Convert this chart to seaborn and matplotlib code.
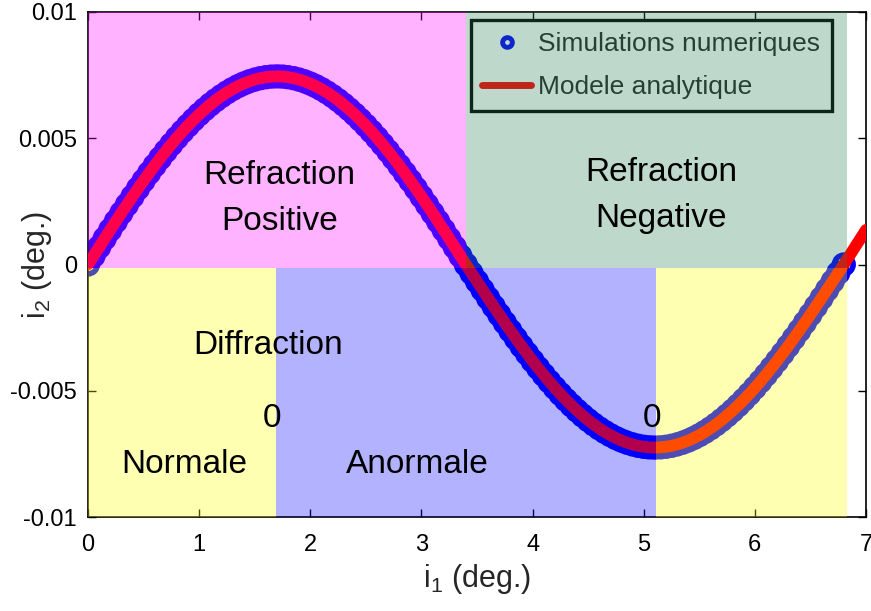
import numpy as np
import pandas as pd
import matplotlib
matplotlib.use("Agg")
import matplotlib.pyplot as plt
from matplotlib.lines import Line2D
import seaborn as sns

# Simulated transmitted angle i2 versus incidence angle i1 (degrees), sampled every 0.05 deg
sim_i1 = np.round(np.linspace(0.0, 6.8, 137), 2)
sim_i2 = [
    0.0, 0.000344, 0.000687, 0.001029, 0.001369, 0.001706, 0.002039, 0.002367,
    0.002691, 0.003009, 0.003321, 0.003625, 0.003922, 0.004210, 0.004490, 0.004759,
    0.005019, 0.005268, 0.005505, 0.005731, 0.005945, 0.006146, 0.006334, 0.006508,
    0.006669, 0.006815, 0.006947, 0.007064, 0.007165, 0.007252, 0.007323, 0.007379,
    0.007418, 0.007442, 0.007450,
    0.007442, 0.007418, 0.007379, 0.007323, 0.007252, 0.007165, 0.007064, 0.006947,
    0.006815, 0.006669, 0.006508, 0.006334, 0.006146, 0.005945, 0.005731, 0.005505,
    0.005268, 0.005019, 0.004759, 0.004490, 0.004210, 0.003922, 0.003625, 0.003321,
    0.003009, 0.002691, 0.002367, 0.002039, 0.001706, 0.001369, 0.001029, 0.000687,
    0.000344, 0.0,
    -0.000335, -0.000669, -0.001002, -0.001332, -0.001660, -0.001984, -0.002304,
    -0.002619, -0.002928, -0.003232, -0.003528, -0.003817, -0.004097, -0.004369,
    -0.004632, -0.004884, -0.005127, -0.005358, -0.005578, -0.005786, -0.005981,
    -0.006164, -0.006334, -0.006490, -0.006632, -0.006760, -0.006874, -0.006973,
    -0.007057, -0.007126, -0.007180, -0.007219, -0.007242, -0.007250,
    -0.007242, -0.007219, -0.007180, -0.007126, -0.007057, -0.006973, -0.006874,
    -0.006760, -0.006632, -0.006490, -0.006334, -0.006164, -0.005981, -0.005786,
    -0.005578, -0.005358, -0.005127, -0.004884, -0.004632, -0.004369, -0.004097,
    -0.003817, -0.003528, -0.003232, -0.002928, -0.002619, -0.002304, -0.001984,
    -0.001660, -0.001332, -0.001002, -0.000669, -0.000335, 0.0,
]

# Analytic model: same curve, continued up to i1 = 7 deg
model_i1 = np.round(np.linspace(0.0, 7.0, 141), 2)
model_tail = [0.000344, 0.000687, 0.001029, 0.001369]
model_i2 = sim_i2 + model_tail

# Shaded regimes: (x0, x1, y0, y1, colour)
zero_edge = -0.00015
regions = [
    (0.0, 3.40, zero_edge, 0.01, (1.0, 0.0, 1.0)),     # refraction positive
    (3.40, 6.83, zero_edge, 0.01, (0.16, 0.50, 0.33)),  # refraction negative
    (0.0, 1.69, -0.01, zero_edge, (1.0, 1.0, 0.0)),     # diffraction normale
    (1.69, 5.11, -0.01, zero_edge, (0.0, 0.0, 1.0)),    # diffraction anormale
    (5.11, 6.83, -0.01, zero_edge, (1.0, 1.0, 0.0)),
]

labels = [
    (1.72, 0.00262, "Refraction\nPositive"),
    (5.16, 0.00272, "Refraction\nNegative"),
    (1.62, -0.00319, "Diffraction"),
    (1.655, -0.00608, "0"),
    (5.075, -0.00608, "0"),
    (0.864, -0.00794, "Normale"),
    (2.96, -0.00794, "Anormale"),
]

sns.set_style("ticks")
plt.rcParams["font.family"] = ["Liberation Sans", "DejaVu Sans"]
plt.rcParams["mathtext.fontset"] = "custom"
plt.rcParams["mathtext.rm"] = "Liberation Sans"

fig = plt.figure(figsize=(8.71, 6.11), dpi=100)
ax = fig.add_axes([88 / 871, 1 - 517 / 611, 778 / 871, 505 / 611])

sim_df = pd.DataFrame({"i1": sim_i1, "i2": sim_i2})
model_df = pd.DataFrame({"i1": model_i1, "i2": model_i2})

sns.scatterplot(data=sim_df, x="i1", y="i2", ax=ax, marker="o", s=13.5 ** 2,
                facecolors="none", edgecolor=(0, 0, 1), linewidth=4.0,
                zorder=2, legend=False)
sns.lineplot(data=model_df, x="i1", y="i2", ax=ax, color=(1, 0, 0),
             linewidth=8.5, zorder=3, legend=False, sort=False)

handles = [
    Line2D([], [], linestyle="none", marker="o", markersize=7,
           markerfacecolor="none", markeredgecolor=(0, 0, 1), markeredgewidth=3.5),
    Line2D([], [], color=(1, 0, 0), linewidth=5),
]
leg = ax.legend(handles, ["Simulations numeriques", "Modele analytique"],
                loc="upper right", bbox_to_anchor=(0.956, 0.984), borderaxespad=0,
                fontsize=19, frameon=True, fancybox=False, framealpha=1,
                facecolor="white", edgecolor="black", handlelength=1.85,
                handletextpad=0.25, labelspacing=0.72, borderpad=0.45)
leg.get_frame().set_linewidth(2.4)
leg.set_zorder(5)

for x0, x1, y0, y1, col in regions:
    ax.fill_between([x0, x1], y0, y1, color=col, alpha=0.3, linewidth=0, zorder=6)

for x, y, t in labels:
    ax.text(x, y, t, ha="center", va="center", fontsize=24, color="black",
            linespacing=1.62, zorder=7)

ax.set_xlim(0, 7)
ax.set_ylim(-0.01, 0.01)
ax.set_xticks(range(0, 8))
ax.set_yticks([-0.01, -0.005, 0, 0.005, 0.01])
ax.set_yticklabels(["-0.01", "-0.005", "0", "0.005", "0.01"])
ax.tick_params(direction="in", length=6, width=1, labelsize=17,
               top=True, right=True, colors="black")
ax.tick_params(axis="x", pad=12)
ax.tick_params(axis="y", pad=8)
ax.set_xlabel(r"i$_\mathregular{1}$ (deg.)", fontsize=22)
ax.set_ylabel(r"i$_\mathregular{2}$ (deg.)", fontsize=22)
ax.xaxis.set_label_coords(0.5, -0.09)
ax.yaxis.set_label_coords(-0.044, 0.5)
for sp in ax.spines.values():
    sp.set_visible(True)
    sp.set_linewidth(1.2)
    sp.set_color("black")
ax.set_facecolor("white")

fig.savefig("out.png", dpi=100)
